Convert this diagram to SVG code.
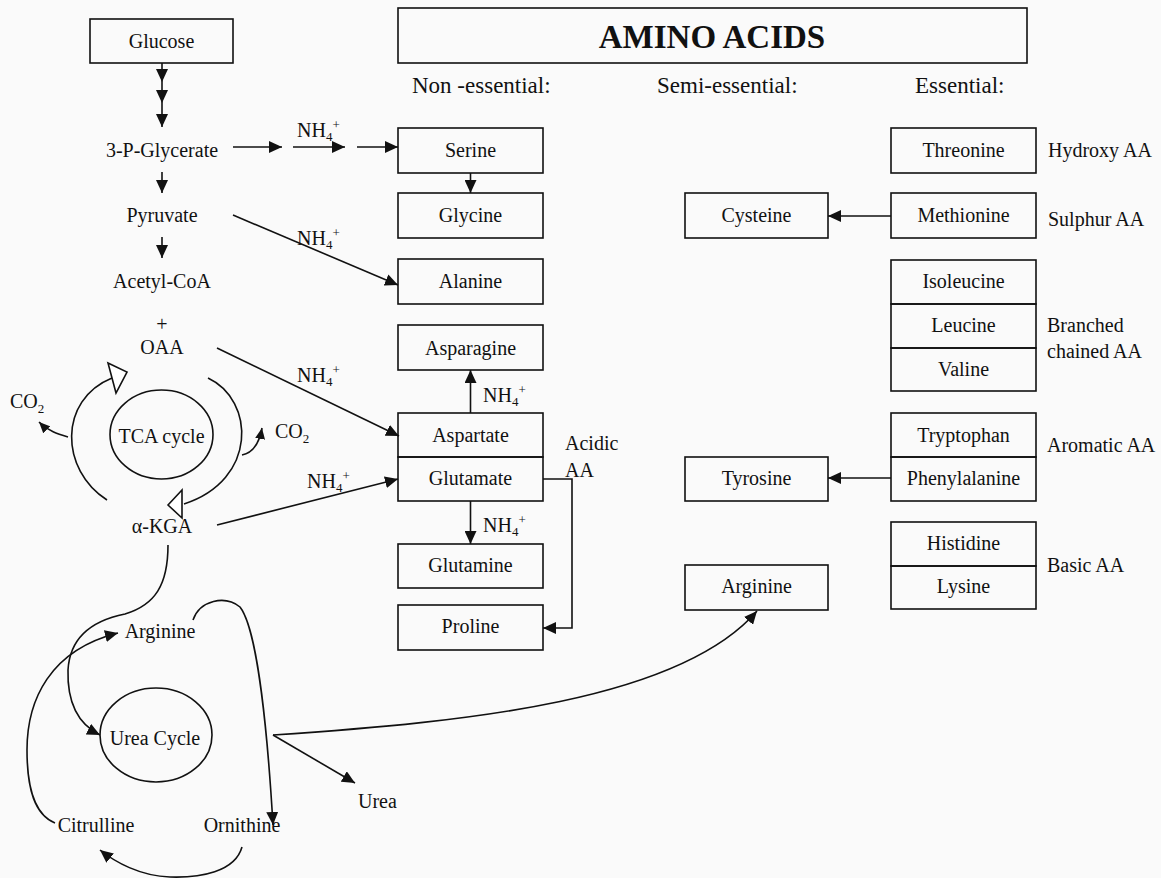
<svg xmlns="http://www.w3.org/2000/svg" width="1161" height="878" viewBox="0 0 1161 878">
<defs>
<style>
text{font-family:"Liberation Serif","Times New Roman",serif;font-size:20px;fill:#111}
.c{text-anchor:middle}
.h{font-size:23px}
.t{font-size:33px;font-weight:bold}
.s{font-size:13px}
rect.b{fill:none;stroke:#111;stroke-width:1.6}
.ln{fill:none;stroke:#111;stroke-width:1.6}
.ar{marker-end:url(#ah)}
.as{marker-end:url(#sm)}
.hol{fill:#fff;stroke:#111;stroke-width:1.6;stroke-linejoin:miter}
</style>
<marker id="ah" markerUnits="userSpaceOnUse" markerWidth="14" markerHeight="12" refX="13" refY="6" orient="auto">
<path d="M0,0 L13,6 L0,12 z" fill="#111"/>
</marker>
<marker id="sm" markerUnits="userSpaceOnUse" markerWidth="12" markerHeight="10" refX="11" refY="5" orient="auto">
<path d="M0,0 L11,5 L0,10 z" fill="#111"/>
</marker>
</defs>
<rect x="0" y="0" width="1161" height="878" fill="#fafafa"/>

<g id="title">
<rect class="b" x="398" y="8" width="629" height="55"/>
<text class="t c" x="712" y="48">AMINO ACIDS</text>
</g>
<g id="headers">
<text class="h" x="412" y="93">Non -essential:</text>
<text class="h" x="657" y="93">Semi-essential:</text>
<text class="h" x="915" y="93">Essential:</text>
</g>

<g id="glucose"><rect class="b" x="90" y="19" width="143" height="44"/><text class="c" x="161.5" y="48">Glucose</text></g>
<g id="pglycerate"><text class="c" x="162" y="157">3-P-Glycerate</text></g>
<g id="pyruvate"><text class="c" x="162" y="222">Pyruvate</text></g>
<g id="acetylcoa"><text class="c" x="162" y="288">Acetyl-CoA</text></g>
<g id="oaa"><text class="c" x="162" y="331">+</text><text class="c" x="162" y="354">OAA</text></g>
<g id="tca"><ellipse cx="161.5" cy="434.5" rx="51.5" ry="44.5" fill="none" stroke="#111" stroke-width="1.6"/><text class="c" x="161.5" y="443">TCA cycle</text></g>
<g id="co2-left"><text x="10" y="408">CO<tspan class="s" dy="5">2</tspan></text></g>
<g id="co2-right"><text x="275" y="438">CO<tspan class="s" dy="5">2</tspan></text></g>
<g id="akga"><text class="c" x="162" y="533">α-KGA</text></g>
<g id="arginine-l"><text class="c" x="160" y="638">Arginine</text></g>
<g id="ureacycle"><ellipse cx="156" cy="735" rx="56" ry="47" fill="none" stroke="#111" stroke-width="1.6"/><text class="c" x="155" y="745">Urea Cycle</text></g>
<g id="citrulline"><text class="c" x="96" y="832">Citrulline</text></g>
<g id="ornithine"><text class="c" x="242" y="832">Ornithine</text></g>
<g id="urea"><text x="358" y="808">Urea</text></g>

<g id="serine"><rect class="b" x="398" y="128" width="145" height="45"/><text class="c" x="470.5" y="157">Serine</text></g>
<g id="glycine"><rect class="b" x="398" y="193" width="145" height="45"/><text class="c" x="470.5" y="222">Glycine</text></g>
<g id="alanine"><rect class="b" x="398" y="259" width="145" height="45"/><text class="c" x="470.5" y="288">Alanine</text></g>
<g id="asparagine"><rect class="b" x="398" y="325" width="145" height="45"/><text class="c" x="470.5" y="355">Asparagine</text></g>
<g id="aspartate"><rect class="b" x="398" y="413" width="145" height="44"/><text class="c" x="470.5" y="442">Aspartate</text></g>
<g id="glutamate"><rect class="b" x="398" y="457" width="145" height="44"/><text class="c" x="470.5" y="485">Glutamate</text></g>
<g id="acidic"><text x="565" y="450">Acidic</text><text x="565" y="477">AA</text></g>
<g id="glutamine"><rect class="b" x="398" y="544" width="145" height="44"/><text class="c" x="470.5" y="572">Glutamine</text></g>
<g id="proline"><rect class="b" x="398" y="605" width="145" height="45"/><text class="c" x="470.5" y="633">Proline</text></g>

<g id="cysteine"><rect class="b" x="685" y="193" width="143" height="45"/><text class="c" x="756.5" y="222">Cysteine</text></g>
<g id="tyrosine"><rect class="b" x="685" y="457" width="143" height="44"/><text class="c" x="756.5" y="485">Tyrosine</text></g>
<g id="arginine"><rect class="b" x="685" y="565" width="143" height="45"/><text class="c" x="756.5" y="593">Arginine</text></g>

<g id="threonine"><rect class="b" x="891" y="128" width="145" height="45"/><text class="c" x="963.5" y="157">Threonine</text></g>
<g id="methionine"><rect class="b" x="891" y="193" width="145" height="45"/><text class="c" x="963.5" y="222">Methionine</text></g>
<g id="isoleucine"><rect class="b" x="891" y="260" width="145" height="44"/><text class="c" x="963.5" y="288">Isoleucine</text></g>
<g id="leucine"><rect class="b" x="891" y="304" width="145" height="44"/><text class="c" x="963.5" y="332">Leucine</text></g>
<g id="valine"><rect class="b" x="891" y="348" width="145" height="43"/><text class="c" x="963.5" y="376">Valine</text></g>
<g id="tryptophan"><rect class="b" x="891" y="413" width="145" height="44"/><text class="c" x="963.5" y="442">Tryptophan</text></g>
<g id="phenylalanine"><rect class="b" x="891" y="457" width="145" height="44"/><text class="c" x="963.5" y="485">Phenylalanine</text></g>
<g id="histidine"><rect class="b" x="891" y="522" width="145" height="44"/><text class="c" x="963.5" y="550">Histidine</text></g>
<g id="lysine"><rect class="b" x="891" y="566" width="145" height="43"/><text class="c" x="963.5" y="593">Lysine</text></g>

<g id="labels">
<text x="1048" y="157">Hydroxy AA</text>
<text x="1048" y="226">Sulphur AA</text>
<text x="1047" y="332">Branched</text>
<text x="1047" y="358">chained AA</text>
<text x="1047" y="452">Aromatic AA</text>
<text x="1047" y="572">Basic AA</text>
</g>

<g id="connectors">
<line class="ln ar" x1="162" y1="63" x2="162" y2="82"/>
<line class="ln ar" x1="162" y1="82" x2="162" y2="103"/>
<line class="ln ar" x1="162" y1="103" x2="162" y2="127"/>
<line class="ln ar" x1="162" y1="172" x2="162" y2="193"/>
<line class="ln ar" x1="162" y1="237" x2="162" y2="258"/>
<line class="ln ar" x1="233" y1="147" x2="282" y2="147"/>
<line class="ln ar" x1="293" y1="147" x2="345" y2="147"/>
<line class="ln ar" x1="357" y1="147" x2="398" y2="147"/>
<line class="ln ar" x1="233" y1="215" x2="398" y2="285"/>
<line class="ln ar" x1="217" y1="348" x2="399" y2="436"/>
<line class="ln ar" x1="217" y1="525" x2="398" y2="479"/>
<line class="ln ar" x1="470.5" y1="173" x2="470.5" y2="193"/>
<line class="ln ar" x1="470.5" y1="413" x2="470.5" y2="370"/>
<line class="ln ar" x1="470.5" y1="501" x2="470.5" y2="544"/>
<polyline class="ln ar" points="543,479 572,479 572,628 543,628"/>
<line class="ln ar" x1="891" y1="216" x2="828" y2="216"/>
<line class="ln ar" x1="891" y1="478" x2="828" y2="478"/>

<path class="ln" d="M107,500 C60,470 58,400 112,378"/>
<polygon class="hol" points="108,363 127,372 116,393"/>
<path class="ln" d="M208,378 C255,400 258,480 184,504"/>
<polygon class="hol" points="168,505 182,490 182,518"/>
<path class="ln as" d="M68,437 C58,434 48,431 39,422"/>
<path class="ln as" d="M242,455 C252,453 259,445 262,428"/>

<path class="ln ar" d="M168,545 C168,585 155,605 125,614 C95,620 70,635 68,670 C67,705 80,725 100,735"/>
<path class="ln ar" d="M55,823 C35,815 27,790 27,750 C27,700 50,650 118,633"/>
<path class="ln ar" d="M193,620 C200,600 225,595 240,607 C258,630 268,740 273,825"/>
<path class="ln ar" d="M242,847 C235,872 200,878 170,877 C140,876 115,862 100,850"/>
<line class="ln ar" x1="273" y1="735" x2="355" y2="783"/>
<path class="ln ar" d="M273,735 C470,722 680,700 757,611"/>
</g>

<g id="nh4-labels">
<text x="297" y="137">NH<tspan class="s" dy="4">4</tspan><tspan class="s" dy="-12">+</tspan></text>
<text x="297" y="245">NH<tspan class="s" dy="4">4</tspan><tspan class="s" dy="-12">+</tspan></text>
<text x="297" y="382">NH<tspan class="s" dy="4">4</tspan><tspan class="s" dy="-12">+</tspan></text>
<text x="307" y="488">NH<tspan class="s" dy="4">4</tspan><tspan class="s" dy="-12">+</tspan></text>
<text x="483" y="402">NH<tspan class="s" dy="4">4</tspan><tspan class="s" dy="-12">+</tspan></text>
<text x="483" y="532">NH<tspan class="s" dy="4">4</tspan><tspan class="s" dy="-12">+</tspan></text>
</g>
</svg>
